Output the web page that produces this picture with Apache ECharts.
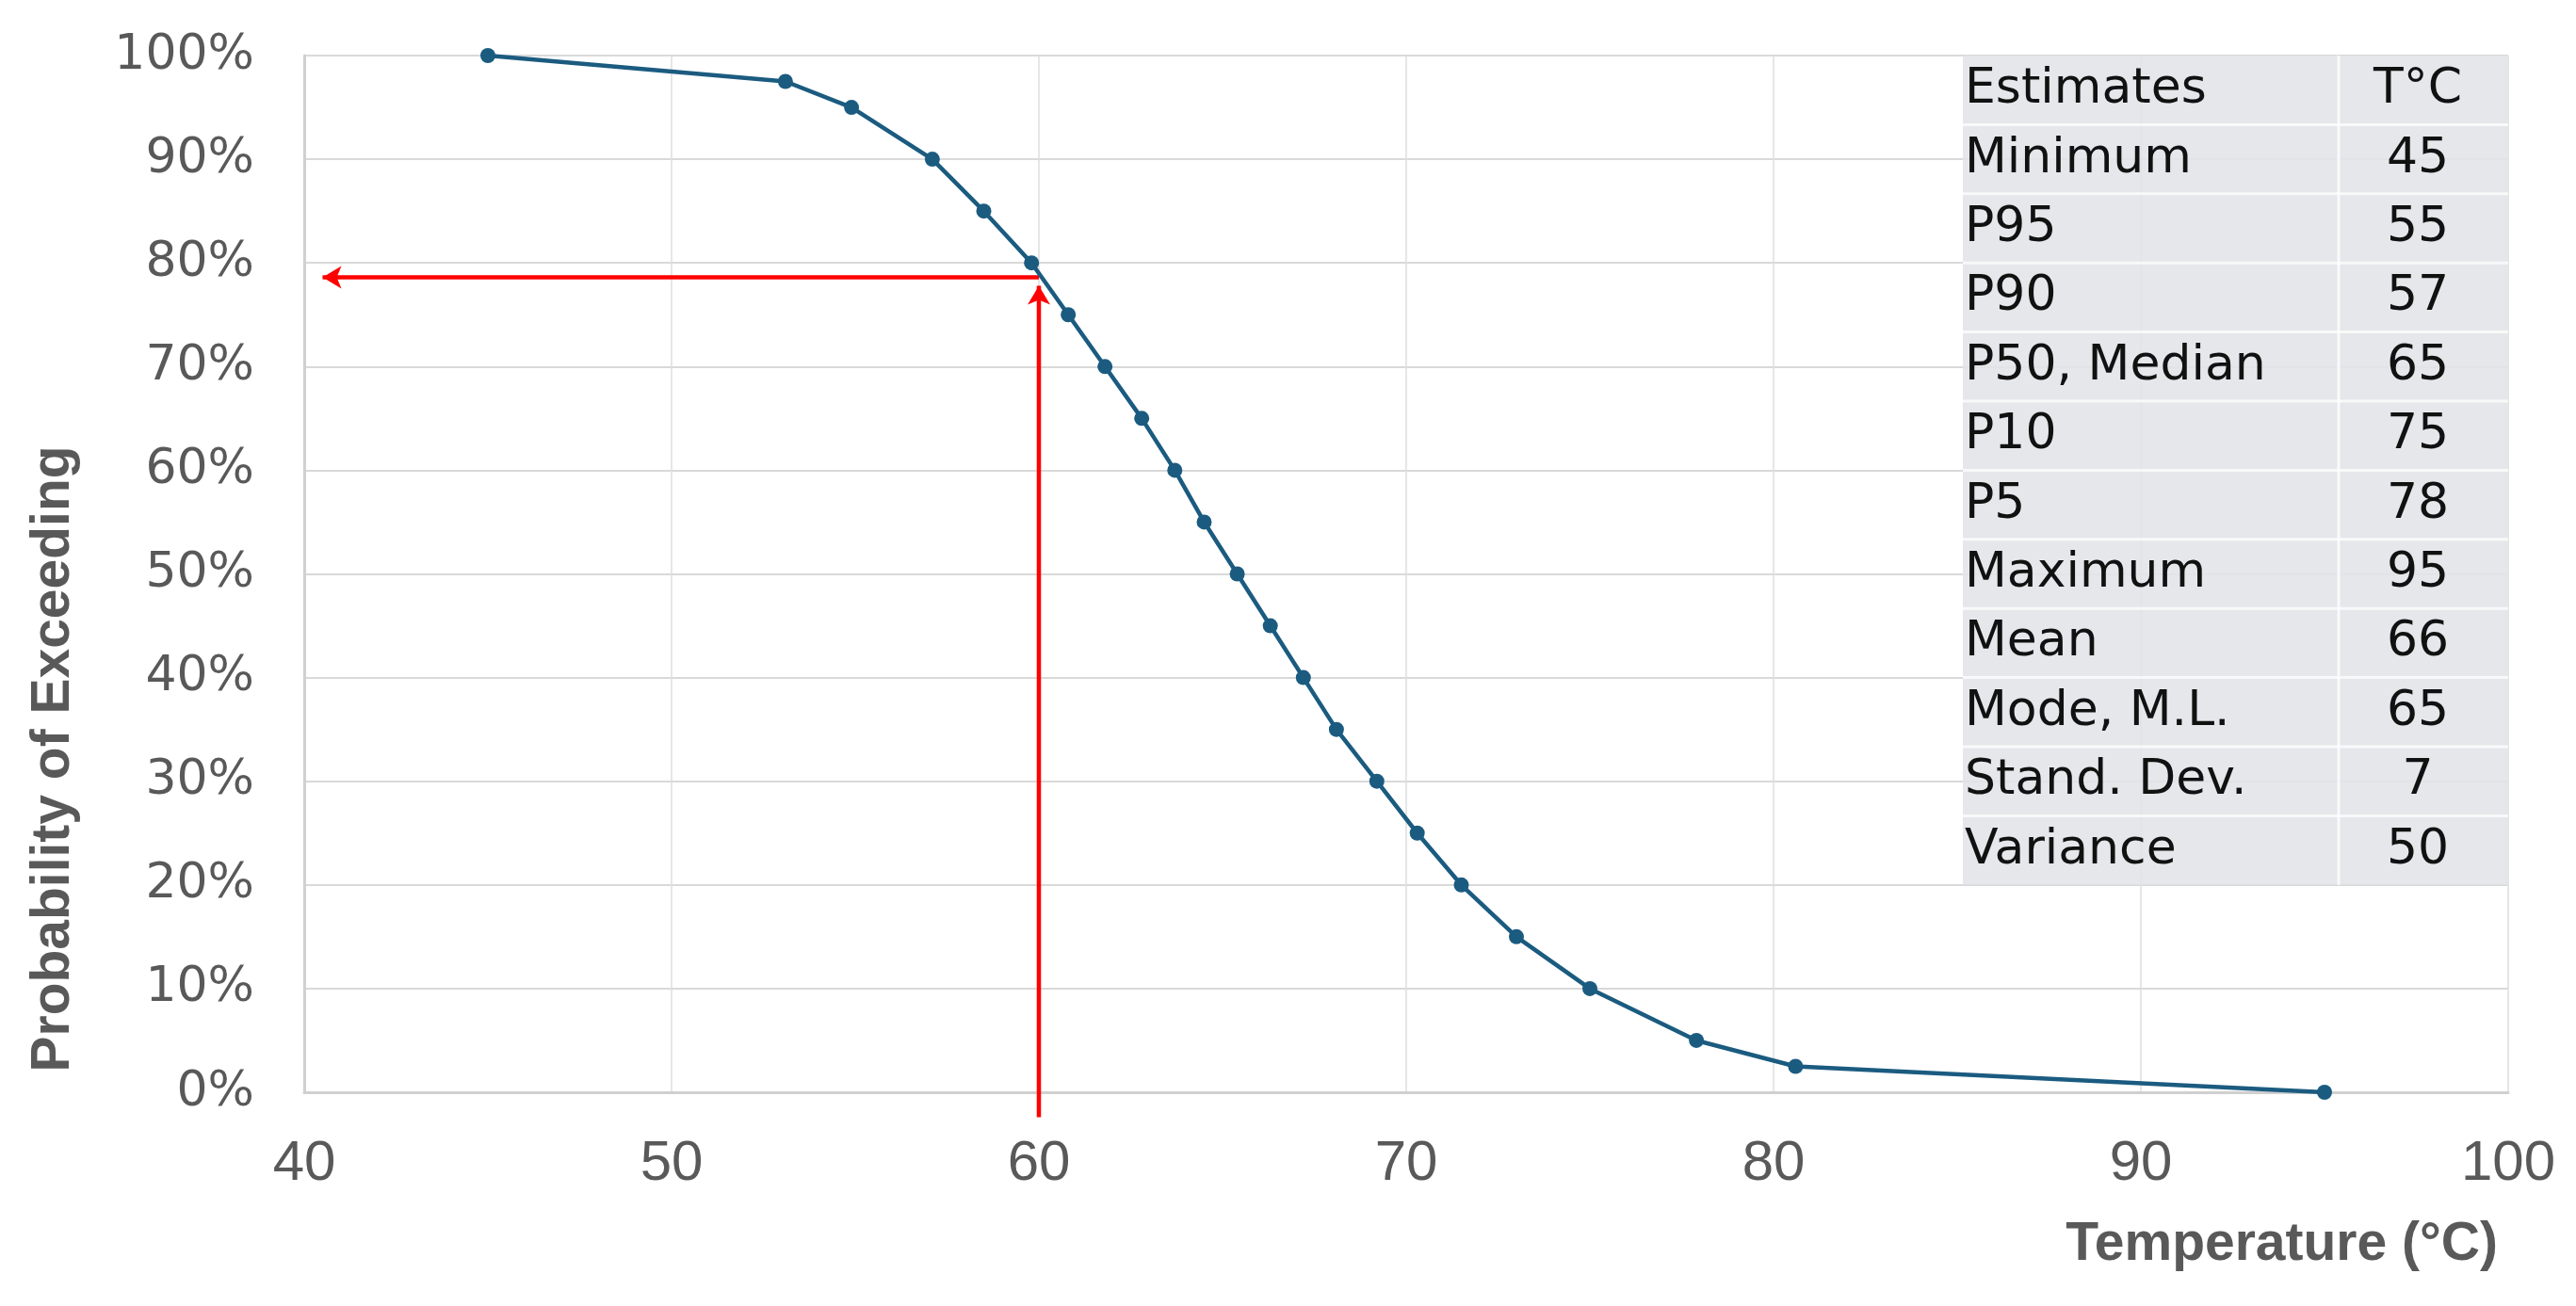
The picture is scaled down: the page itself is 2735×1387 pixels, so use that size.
<!DOCTYPE html>
<html lang="en" style="height: 100%">
<head>
    <meta charset="utf-8">
    <title>Probability of Exceeding</title>
    <script src="https://cdn.jsdelivr.net/npm/echarts@6.0.0/dist/echarts.min.js"></script>
    <style>
        html, body { margin: 0; padding: 0; background: #fff; }
        #chart { width: 2735px; height: 1387px; }
    </style>
</head>
<body>
<div id="chart"></div>
<script type="text/javascript">
    // curve points: temperature (°C) vs probability of exceeding (%)
    var temps = [45, 53.1, 54.9, 57.1, 58.5, 59.8, 60.8, 61.8, 62.8, 63.7, 64.5, 65.4,
                 66.3, 67.2, 68.1, 69.2, 70.3, 71.5, 73.0, 75.0, 77.9, 80.6, 95];
    var probs = [100, 97.5, 95, 90, 85, 80, 75, 70, 65, 60, 55, 50,
                 45, 40, 35, 30, 25, 20, 15, 10, 5, 2.5, 0];

    // red reading arrows
    var upArrow = [[60, -2.4], [60, 77.8]];
    var leftArrow = [[60, 78.6], [40.5, 78.6]];

    // estimates table
    var statHeader = ['Estimates', 'T°C'];
    var statNames = ['Minimum', 'P95', 'P90', 'P50, Median', 'P10', 'P5', 'Maximum',
                     'Mean', 'Mode, M.L.', 'Stand. Dev.', 'Variance'];
    var statValues = [45, 55, 57, 65, 75, 78, 95, 66, 65, 7, 50];

    var GRID = { left: 323, right: 72, top: 59, bottom: 227 };
    var W = 2735, H = 1387;

    var curve = temps.map(function (t, i) { return [t, probs[i]]; });

    function arrowData(pts, rot) {
        return [
            { value: pts[0], symbol: 'none' },
            { value: pts[1], symbol: 'arrow', symbolSize: [18, 20], symbolRotate: rot }
        ];
    }

    // table drawn as graphic elements on top of the plot
    var tblLeft = 2084, tblRight = W - GRID.right, tblTop = GRID.top;
    var tblDiv = 2483;
    var rowH = (1160 - GRID.top) * 0.8 / 12;
    var tableEls = [];
    tableEls.push({
        type: 'rect',
        shape: { x: tblLeft, y: tblTop, width: tblRight - tblLeft, height: rowH * 12 },
        style: { fill: 'rgba(226,228,232,0.88)' },
        z: 10
    });
    for (var r = 1; r < 12; r++) {
        tableEls.push({
            type: 'rect',
            shape: { x: tblLeft, y: tblTop + r * rowH - 1.5, width: tblRight - tblLeft, height: 3 },
            style: { fill: 'rgba(255,255,255,0.75)' },
            z: 11
        });
    }
    tableEls.push({
        type: 'rect',
        shape: { x: tblDiv - 1.5, y: tblTop, width: 3, height: rowH * 12 },
        style: { fill: 'rgba(255,255,255,0.8)' },
        z: 11
    });
    var rowsL = [statHeader[0]].concat(statNames);
    var rowsR = [statHeader[1]].concat(statValues.map(String));
    for (var k = 0; k < rowsL.length; k++) {
        var cy = tblTop + (k + 0.5) * rowH;
        tableEls.push({
            type: 'text', x: tblLeft + 2, y: cy, z: 12,
            style: { text: rowsL[k], fill: '#111111', font: '52px "DejaVu Sans"',
                     textAlign: 'left', verticalAlign: 'middle' }
        });
        tableEls.push({
            type: 'text', x: 2567, y: cy, z: 12,
            style: { text: rowsR[k], fill: '#111111', font: '52px "DejaVu Sans"',
                     textAlign: 'center', verticalAlign: 'middle' }
        });
    }

    var dom = document.getElementById('chart');
    var myChart = echarts.init(dom, null, { renderer: 'canvas' });

    var option = {
        animation: false,
        backgroundColor: '#ffffff',
        grid: GRID,
        xAxis: {
            type: 'value',
            min: 40, max: 100, interval: 10,
            axisLine: { show: true, lineStyle: { color: '#d0d0d0', width: 3 } },
            axisTick: { show: false },
            axisLabel: { color: '#595959', fontSize: 60, fontFamily: 'Liberation Sans', margin: 46, lineHeight: 60 },
            splitLine: { show: true, lineStyle: { color: '#dedede', width: 1.5 } }
        },
        yAxis: {
            type: 'value',
            min: 0, max: 100, interval: 10,
            axisLine: { show: true, lineStyle: { color: '#d0d0d0', width: 3 } },
            axisTick: { show: false },
            axisLabel: { color: '#595959', fontSize: 52, fontFamily: 'DejaVu Sans', margin: 53, formatter: '{value}%' },
            splitLine: { show: true, lineStyle: { color: '#d9d9d9', width: 2 } }
        },
        graphic: [
            {
                type: 'text', x: 57, y: 806, rotation: Math.PI / 2,
                style: { text: 'Probability of Exceeding', fill: '#595959',
                         font: 'bold 57px "Liberation Sans"', textAlign: 'center', verticalAlign: 'middle' }
            },
            {
                type: 'text', x: 2652, y: 1322,
                style: { text: 'Temperature (°C)', fill: '#595959',
                         font: 'bold 57px "Liberation Sans"', textAlign: 'right', verticalAlign: 'middle' }
            }
        ].concat(tableEls),
        series: [
            {
                name: 'up', type: 'line', clip: false, silent: true, z: 3,
                lineStyle: { color: '#ff0000', width: 4.5 },
                itemStyle: { color: '#ff0000' },
                data: arrowData(upArrow, 0)
            },
            {
                name: 'left', type: 'line', clip: false, silent: true, z: 3,
                lineStyle: { color: '#ff0000', width: 4.5 },
                itemStyle: { color: '#ff0000' },
                data: arrowData(leftArrow, 90)
            },
            {
                name: 'Probability of Exceeding', type: 'line', z: 4,
                symbol: 'circle', symbolSize: 16, showAllSymbol: true,
                lineStyle: { color: '#1b5b80', width: 4.5 },
                itemStyle: { color: '#1b5b80' },
                data: curve
            }
        ]
    };

    myChart.setOption(option);
    window.addEventListener('resize', myChart.resize);
</script>
</body>
</html>
